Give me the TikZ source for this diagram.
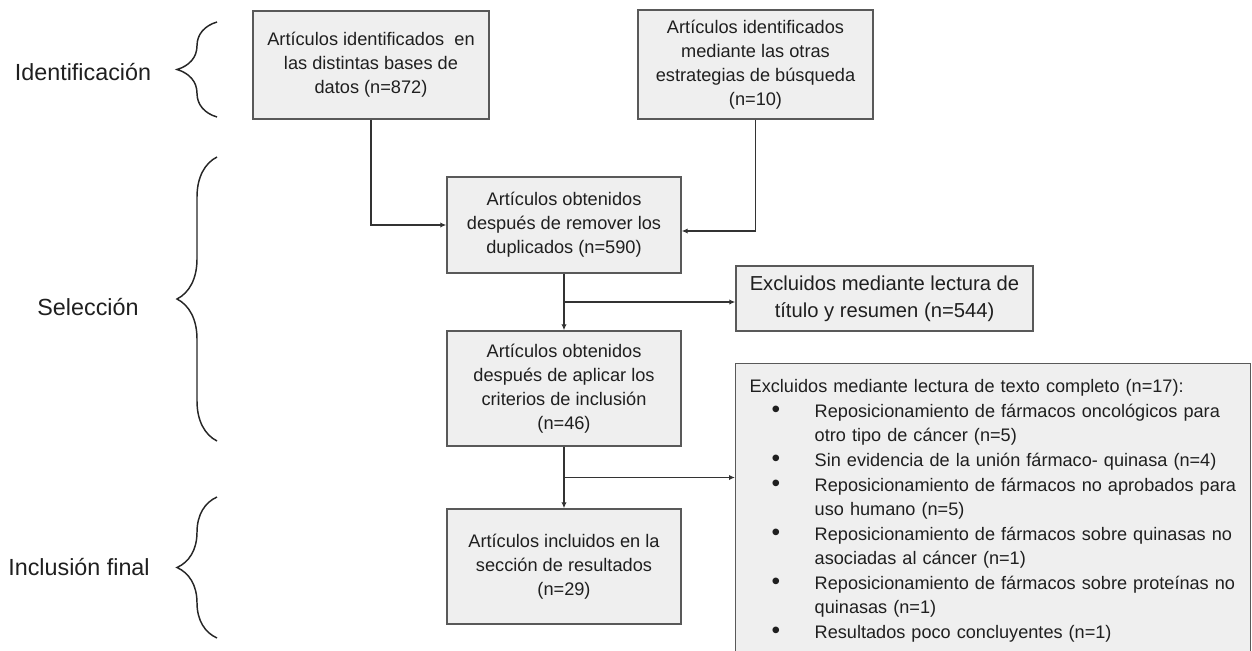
\documentclass[tikz,border=0pt]{standalone}
\usepackage{fontspec}
\setmainfont{Liberation Sans}
\usetikzlibrary{arrows.meta,decorations.pathreplacing,calc}

\definecolor{cajagris}{HTML}{EFEFEF}
\definecolor{bordegris}{HTML}{595959}
\definecolor{lineagris}{HTML}{333333}

\newcommand{\vineta}{\makebox[48.75pt][l]{\hspace*{16.5pt}\raisebox{-0.3pt}{\scalebox{1.35}{\textbullet}}}}
\newcommand{\sangria}{\hspace*{48.75pt}}

\tikzset{
	caja/.style={rectangle, draw=bordegris, fill=cajagris, line width=1.1pt, align=center, text=black!88, font=\fontsize{13.65}{18}\selectfont},
	flecha/.style={draw=lineagris, line width=1.2pt, -{Latex[length=4.5pt,width=4pt]}},
	llave/.style={draw=black!85, line width=1.1pt, decorate, decoration={brace, amplitude=30pt}},
	etapa/.style={font=\fontsize{17.5}{21}\selectfont, text=black!88}
}

\begin{document}
\begin{tikzpicture}[x=0.75pt, y=-0.75pt]
	\clip (0,0) rectangle (1252,650);

	\node(ident)[caja, minimum width=177pt, minimum height=81pt] at (371,65) {Artículos identificados~ en\\las distintas bases de\\datos (n=872)};
	\node(otras)[caja, minimum width=176.25pt, minimum height=81.75pt] at (755.5,64.5) {Artículos identificados\\mediante las otras\\estrategias de búsqueda\\(n=10)};
	\node(dup)[caja, minimum width=175.5pt, minimum height=72pt] at (564,225) {Artículos obtenidos\\después de remover los\\duplicados (n=590)};
	\node(exTitulo)[caja, minimum width=222.75pt, minimum height=48.75pt, font=\fontsize{15.15}{20.25}\selectfont] at (884.5,298.5) {Excluidos mediante lectura de\\título y resumen (n=544)};
	\node(crit)[caja, minimum width=175.5pt, minimum height=86.25pt] at (564,388.5) {Artículos obtenidos\\después de aplicar los\\criterios de inclusión\\(n=46)};
	\node(incl)[caja, minimum width=175.5pt, minimum height=86.25pt] at (564,566.5) {Artículos incluidos en la\\sección de resultados\\(n=29)};
	\node(exTexto)[caja, anchor=north west, text width=365pt, align=left, inner xsep=10.5pt, inner ysep=12pt, font=\fontsize{13.6}{18.4}\selectfont] at (735,363) {Excluidos mediante lectura de texto completo (n=17):\\
		\vineta Reposicionamiento de fármacos oncológicos para\\
		\sangria otro tipo de cáncer (n=5)\\
		\vineta Sin evidencia de la unión fármaco- quinasa (n=4)\\
		\vineta Reposicionamiento de fármacos no aprobados para\\
		\sangria uso humano (n=5)\\
		\vineta Reposicionamiento de fármacos sobre quinasas no\\
		\sangria asociadas al cáncer (n=1)\\
		\vineta Reposicionamiento de fármacos sobre proteínas no\\
		\sangria quinasas (n=1)\\
		\vineta Resultados poco concluyentes (n=1)};

	\node(etapa-ident)[etapa] at (83,72) {Identificación};
	\node(etapa-sel)[etapa] at (88,307) {Selección};
	\node(etapa-incl)[etapa] at (79,567) {Inclusión final};

	\draw[llave] (217,117) -- (217,22);
	\draw[llave] (217,441) -- (217,157);
	\draw[llave] (217,638) -- (217,497);

	\coordinate (rama-1) at ($(dup.south)!0.5!(crit.north)$);
	\coordinate (rama-2) at ($(crit.south)!0.5!(incl.north)$);

	\draw[flecha] (ident.south) |- (dup.west);
	\draw[flecha] (otras.south) |- ([yshift=-4.5pt]dup.east);
	\draw[flecha] (dup.south) -- (crit.north);
	\draw[flecha] (rama-1) -- (rama-1 -| exTitulo.west);
	\draw[flecha] (crit.south) -- (incl.north);
	\draw[flecha] (rama-2) -- (rama-2 -| exTexto.west);
\end{tikzpicture}
\end{document}
